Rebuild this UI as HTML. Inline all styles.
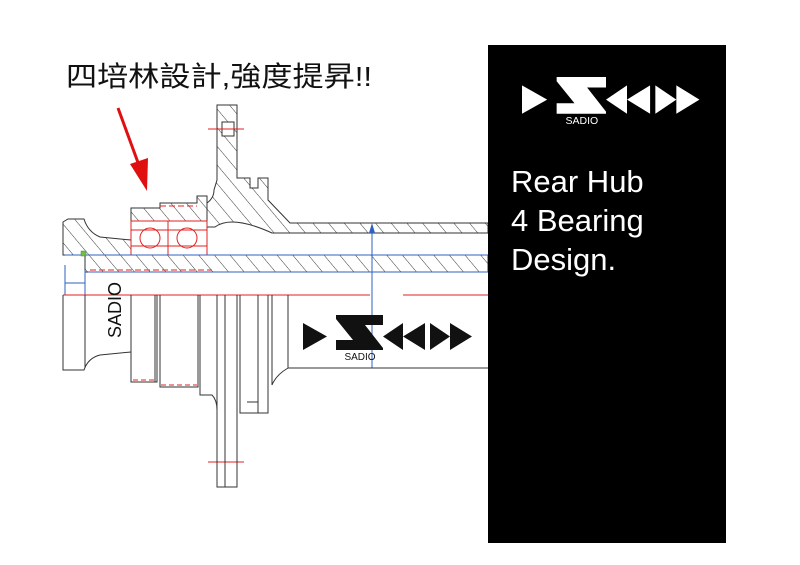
<!DOCTYPE html>
<html><head><meta charset="utf-8"><style>
html,body{margin:0;padding:0;background:#fff;width:800px;height:565px;overflow:hidden}
svg{display:block}
</style></head><body>
<svg width="800" height="565" viewBox="0 0 800 565" xmlns="http://www.w3.org/2000/svg">
<defs>
<pattern id="h" width="12" height="12" patternUnits="userSpaceOnUse" patternTransform="rotate(-40)">
<line x1="0" y1="0" x2="0" y2="12" stroke="#222" stroke-width="0.9"/>
</pattern>
<g id="logo">
<polygon points="0,8 0,35 24,21.5"/>
<polygon points="33,0 80,0 80,10 62,10 80,33 80,35 33,35 33,25 50,25 33,4"/>
<polygon points="80,21.5 100,8 100,35"/>
<polygon points="100,21.5 122,8 122,35"/>
<polygon points="127,8 127,35 147,21.5"/>
<polygon points="147,8 147,35 169,21.5"/>
<text x="57" y="45" font-family="Liberation Sans, sans-serif" font-size="10" text-anchor="middle">SADIO</text>
</g>
</defs>

<text x="66" y="86" font-family="Liberation Sans, 'Noto Sans CJK TC', sans-serif" font-size="28" textLength="306" lengthAdjust="spacingAndGlyphs" fill="#111">四培林設計,強度提昇!!</text>

<line x1="118" y1="108" x2="140" y2="168" stroke="#e01010" stroke-width="3"/>
<polygon points="130,164 148,158 147,191" fill="#e01010"/>

<g fill="none" stroke="#333" stroke-width="1">
<path d="M63,222 L68,219 L84,219 Q88,232 100,237 L131,240 L131,255 L63,255 Z" fill="url(#h)"/>
<rect x="85" y="255" width="403" height="17" fill="url(#h)"/>
<path d="M131,208 L160,208 L160,203 L197,203 L197,196 L207,196 L207,221 L131,221 Z" fill="url(#h)"/>
<path d="M217,105 L237,105 L237,178 L250,178 L250,188 L258,188 L258,178 L268,178 L268,200 L290,223 L488,223 L488,233 L272,233 Q248,222 232,222 Q222,222 215,227 L207,227 L207,203 Q214,198 214,190 L217,180 Z" fill="url(#h)"/>
<rect x="222" y="122" width="12" height="14" fill="#fff"/>
<g stroke="#e02020">
<rect x="131" y="221" width="76" height="34" fill="#fff"/>
<line x1="168" y1="221" x2="168" y2="255"/>
<circle cx="150" cy="238" r="10"/><circle cx="187" cy="238" r="10"/>
<line x1="131" y1="230" x2="207" y2="230"/><line x1="131" y1="246" x2="207" y2="246"/>
</g>
<g stroke="#3060c0">
<line x1="65" y1="255" x2="488" y2="255"/>
<line x1="88" y1="272" x2="488" y2="272"/>
<line x1="65" y1="265" x2="65" y2="295"/>
<line x1="85" y1="270" x2="85" y2="295"/>
<line x1="65" y1="283" x2="85" y2="283"/>
<line x1="372" y1="226" x2="372" y2="368"/>
</g>
<polygon points="369,233 375,233 372,223" fill="#3060c0" stroke="none"/>
<rect x="81" y="251" width="5" height="5" fill="#70c040" stroke="#4a8a2a" stroke-width="0.5"/>
<g stroke="#e02020">
<line x1="63" y1="295" x2="370" y2="295"/>
<line x1="403" y1="295" x2="488" y2="295"/>
<line x1="208" y1="129" x2="244" y2="129"/>
<line x1="208" y1="462" x2="244" y2="462"/>
<line x1="90" y1="270" x2="212" y2="270" stroke-dasharray="6,3"/>
<line x1="160" y1="206" x2="197" y2="206" stroke-dasharray="6,3"/>
<line x1="133" y1="380" x2="156" y2="380" stroke-dasharray="5,3"/>
<line x1="161" y1="385" x2="197" y2="385" stroke-dasharray="5,3"/>
</g>
<path d="M63,295 L63,370 L84,370 Q88,358 100,355 L131,352"/>
<line x1="85" y1="295" x2="85" y2="368"/>
<path d="M131,295 L131,382 L157,382 L157,295"/>
<line x1="155" y1="295" x2="155" y2="382"/>
<path d="M160,295 L160,387 L198,387 L198,295"/>
<path d="M200,295 L200,395 L212,395 Q217,400 217,410"/>
<path d="M217,295 L217,487 L237,487 L237,295"/>
<line x1="225" y1="295" x2="225" y2="487"/>
<path d="M240,295 L240,413 L258,413 L258,295"/>
<path d="M258,295 L258,413 L268,413 L268,295"/>
<line x1="247" y1="402" x2="258" y2="402"/>
<path d="M272,295 L272,385 Q276,375 288,368 L488,368"/>
<line x1="288" y1="295" x2="288" y2="368"/>
</g>

<text transform="translate(121,338) rotate(-90)" font-family="Liberation Sans, sans-serif" font-size="18" fill="#111">SADIO</text>

<use href="#logo" x="303" y="315" fill="#111"/>

<rect x="488" y="45" width="238" height="498" fill="#000"/>
<g transform="translate(522,77) scale(1.05)" fill="#fff"><use href="#logo"/></g>
<g font-family="'Liberation Sans', sans-serif" font-size="31" fill="#fff">
<text x="511" y="192">Rear Hub</text>
<text x="511" y="231">4 Bearing</text>
<text x="511" y="270">Design.</text>
</g>
</svg>
</body></html>
